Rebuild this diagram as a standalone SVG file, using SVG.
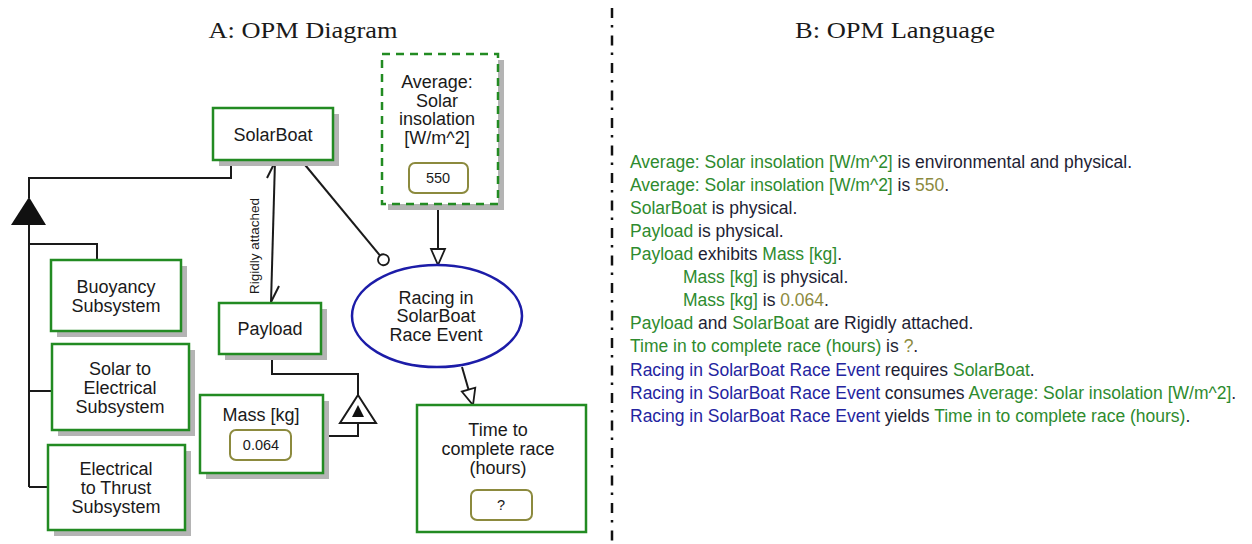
<svg xmlns="http://www.w3.org/2000/svg" width="1252" height="544" viewBox="0 0 1252 544">
  <style>
    .title { font-family: "Liberation Serif", "Times New Roman", serif; font-size: 23px; fill: #1a1a1a; }
    .lbl { font-family: "Liberation Sans", Arial, sans-serif; font-size: 18px; fill: #1a1a1a; text-anchor: middle; }
    .val { font-family: "Liberation Sans", Arial, sans-serif; font-size: 14.5px; fill: #1a1a1a; text-anchor: middle; }
    .tag { font-family: "Liberation Sans", Arial, sans-serif; font-size: 13.5px; fill: #1a1a1a; text-anchor: middle; }
    .obj { fill: #ffffff; stroke: #228b22; stroke-width: 2.5; }
    .env { fill: #ffffff; stroke: #228b22; stroke-width: 2.5; stroke-dasharray: 8 6; }
    .shadow { fill: #b4b4b4; }
    .proc { fill: #ffffff; stroke: #1c1ca8; stroke-width: 2.5; }
    .state { fill: #ffffff; stroke: #8c8a3e; stroke-width: 2; }
    .link { fill: none; stroke: #1a1a1a; stroke-width: 2; }
    .opl { font-family: "Liberation Sans", Arial, sans-serif; font-size: 17.5px; fill: #1e1e34; }
    .g { fill: #2e8b2e; }
    .o { fill: #8c8a3e; }
    .b { fill: #2424a0; }
  </style>
  <defs>
    <!-- hollow triangular head for consumption / result links -->
    <marker id="openHead" viewBox="-18 -9 20 18" refX="0" refY="0" markerWidth="20" markerHeight="18" markerUnits="userSpaceOnUse" orient="auto">
      <path d="M-16,-7 L0,0 L-16,7 Z" fill="#ffffff" stroke="#1a1a1a" stroke-width="1.8"/>
    </marker>
    <!-- hollow circle for agent / instrument link -->
    <marker id="agentEnd" viewBox="-7 -7 14 14" refX="5.5" refY="0" markerWidth="14" markerHeight="14" markerUnits="userSpaceOnUse" orient="auto">
      <circle cx="0" cy="0" r="5.5" fill="#ffffff" stroke="#1a1a1a" stroke-width="1.8"/>
    </marker>
  </defs>

  <rect width="1252" height="544" fill="#ffffff"/>

  <!-- panel headings -->
  <text class="title" x="303" y="38" text-anchor="middle" textLength="189" lengthAdjust="spacingAndGlyphs">A: OPM Diagram</text>
  <text class="title" x="895" y="38" text-anchor="middle" textLength="200" lengthAdjust="spacingAndGlyphs">B: OPM Language</text>

  <!-- dash-dot divider -->
  <line x1="612" y1="8" x2="612" y2="544" stroke="#111111" stroke-width="2.5" stroke-dasharray="10 7 2.5 8"/>

  <!-- connectors -->
  <g id="connectors">
    <!-- aggregation: SolarBoat consists of subsystems -->
    <polyline class="link" points="231,160 231,178 29,178 29,198"/>
    <polygon points="29,197 11,225 46,225" fill="#111111"/>
    <polyline class="link" points="29,225 29,487"/>
    <polyline class="link" points="29,244 97,244 97,260"/>
    <line class="link" x1="29" y1="391" x2="52" y2="391"/>
    <line class="link" x1="29" y1="487" x2="48" y2="487"/>

    <!-- exhibition: Payload exhibits Mass -->
    <polyline class="link" points="272,354 272,374 358,374 358,395"/>
    <polygon points="358,395 340,423 376,423" fill="#ffffff" stroke="#1a1a1a" stroke-width="2"/>
    <polygon points="358,405 352,417 364,417" fill="#111111"/>
    <polyline class="link" points="358,423 358,436 323,436"/>

    <!-- tagged bidirectional link: Rigidly attached -->
    <line class="link" x1="275" y1="161" x2="271" y2="303"/>
    <line class="link" x1="275" y1="162" x2="267" y2="178"/>
    <line class="link" x1="271" y1="302" x2="279" y2="286"/>
    <text class="tag" transform="translate(259,246) rotate(-90)">Rigidly attached</text>

    <!-- agent link -->
    <line class="link" x1="301" y1="160" x2="387" y2="264" marker-end="url(#agentEnd)"/>

    <!-- consumption link -->
    <line class="link" x1="438" y1="205" x2="438" y2="265" marker-end="url(#openHead)"/>

    <!-- result link -->
    <line class="link" x1="462" y1="367" x2="473" y2="405" marker-end="url(#openHead)"/>
  </g>

  <!-- nodes -->
  <g id="solarboat">
    <rect class="shadow" x="219" y="114" width="120" height="52"/>
    <rect class="obj" x="213" y="108" width="120" height="52"/>
    <text class="lbl" x="273" y="141">SolarBoat</text>
  </g>

  <g id="buoyancy">
    <rect class="shadow" x="57" y="266" width="130" height="71"/>
    <rect class="obj" x="51" y="260" width="130" height="71"/>
    <text class="lbl" x="116" y="293">Buoyancy</text>
    <text class="lbl" x="116" y="312">Subsystem</text>
  </g>

  <g id="solar-to-electrical">
    <rect class="shadow" x="58" y="350" width="137" height="86"/>
    <rect class="obj" x="52" y="344" width="137" height="86"/>
    <text class="lbl" x="120" y="375">Solar to</text>
    <text class="lbl" x="120" y="394">Electrical</text>
    <text class="lbl" x="120" y="413">Subsystem</text>
  </g>

  <g id="electrical-to-thrust">
    <rect class="shadow" x="54" y="451" width="137" height="85"/>
    <rect class="obj" x="48" y="445" width="137" height="85"/>
    <text class="lbl" x="116" y="475">Electrical</text>
    <text class="lbl" x="116" y="494">to Thrust</text>
    <text class="lbl" x="116" y="513">Subsystem</text>
  </g>

  <g id="payload">
    <rect class="shadow" x="225" y="309" width="102" height="51"/>
    <rect class="obj" x="219" y="303" width="102" height="51"/>
    <text class="lbl" x="270" y="335">Payload</text>
  </g>

  <g id="mass">
    <rect class="shadow" x="206" y="401" width="123" height="78"/>
    <rect class="obj" x="200" y="395" width="123" height="78"/>
    <text class="lbl" x="261" y="421">Mass [kg]</text>
    <rect class="state" x="230" y="430" width="61" height="30" rx="6"/>
    <text class="val" x="261" y="450">0.064</text>
  </g>

  <g id="solar-insolation">
    <rect class="shadow" x="388" y="60" width="116" height="150"/>
    <rect class="env" x="382" y="54" width="116" height="150"/>
    <text class="lbl" x="437" y="88">Average:</text>
    <text class="lbl" x="437" y="107">Solar</text>
    <text class="lbl" x="437" y="125">insolation</text>
    <text class="lbl" x="437" y="144">[W/m^2]</text>
    <rect class="state" x="409" y="163" width="59" height="30" rx="6"/>
    <text class="val" x="438" y="183">550</text>
  </g>

  <g id="racing">
    <ellipse class="proc" cx="437" cy="316" rx="85" ry="51"/>
    <text class="lbl" x="436" y="304">Racing in</text>
    <text class="lbl" x="436" y="322">SolarBoat</text>
    <text class="lbl" x="436" y="341">Race Event</text>
  </g>

  <g id="race-time">
    <rect class="obj" x="417" y="405" width="169" height="127"/>
    <text class="lbl" x="498" y="436">Time to</text>
    <text class="lbl" x="498" y="455">complete race</text>
    <text class="lbl" x="498" y="474">(hours)</text>
    <rect class="state" x="471" y="490" width="61" height="30" rx="6"/>
    <text class="val" x="501" y="510">?</text>
  </g>

  <!-- OPM language sentences -->
  <g id="opl">
    <text class="opl" x="630" y="168"><tspan class="g">Average: Solar insolation [W/m^2]</tspan> is environmental and physical.</text>
    <text class="opl" x="630" y="191"><tspan class="g">Average: Solar insolation [W/m^2]</tspan> is <tspan class="o">550</tspan>.</text>
    <text class="opl" x="630" y="214"><tspan class="g">SolarBoat</tspan> is physical.</text>
    <text class="opl" x="630" y="237"><tspan class="g">Payload</tspan> is physical.</text>
    <text class="opl" x="630" y="260"><tspan class="g">Payload</tspan> exhibits <tspan class="g">Mass [kg]</tspan>.</text>
    <text class="opl" x="683" y="283"><tspan class="g">Mass [kg]</tspan> is physical.</text>
    <text class="opl" x="683" y="306"><tspan class="g">Mass [kg]</tspan> is <tspan class="o">0.064</tspan>.</text>
    <text class="opl" x="630" y="329"><tspan class="g">Payload</tspan> and <tspan class="g">SolarBoat</tspan> are Rigidly attached.</text>
    <text class="opl" x="630" y="352"><tspan class="g">Time in to complete race (hours)</tspan> is <tspan class="o">?</tspan>.</text>
    <text class="opl" x="630" y="376"><tspan class="b">Racing in SolarBoat Race Event</tspan> requires <tspan class="g">SolarBoat</tspan>.</text>
    <text class="opl" x="630" y="399"><tspan class="b">Racing in SolarBoat Race Event</tspan> consumes <tspan class="g">Average: Solar insolation [W/m^2]</tspan>.</text>
    <text class="opl" x="630" y="422"><tspan class="b">Racing in SolarBoat Race Event</tspan> yields <tspan class="g">Time in to complete race (hours)</tspan>.</text>
  </g>
</svg>
